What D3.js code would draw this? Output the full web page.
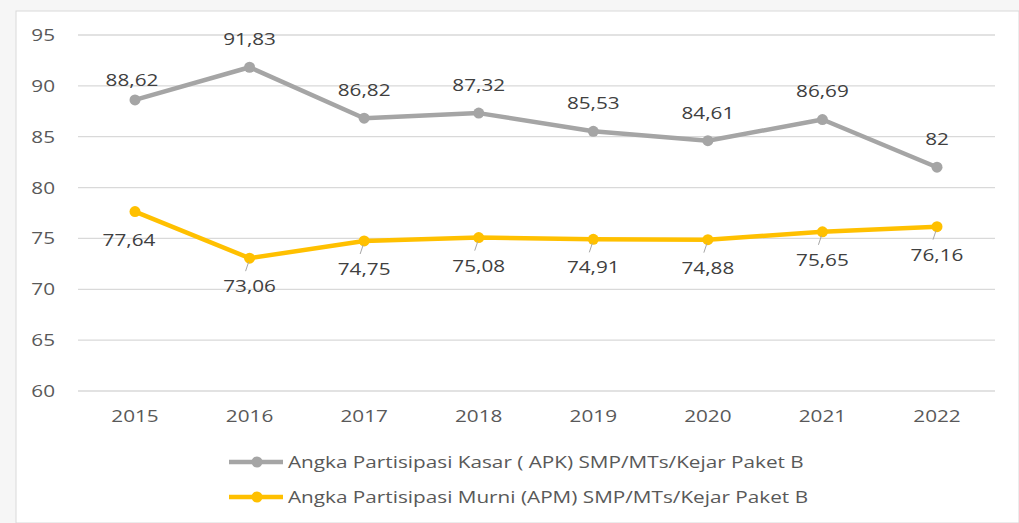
<!DOCTYPE html>
<html><head><meta charset="utf-8">
<script src="https://cdn.jsdelivr.net/npm/d3@7"></script>
<style>
html,body{margin:0;padding:0;background:#f6f6f6;}
svg{display:block;font-family:"Open Sans",sans-serif;}
</style></head>
<body><svg id="c" width="1019" height="523"></svg>
<script>
const years = ["2015","2016","2017","2018","2019","2020","2021","2022"];
const apk = [88.62, 91.83, 86.82, 87.32, 85.53, 84.61, 86.69, 82];
const apm = [77.64, 73.06, 74.75, 75.08, 74.91, 74.88, 75.65, 76.16];
const yTicks = [60, 65, 70, 75, 80, 85, 90, 95];
const seriesNames = ["Angka Partisipasi Kasar ( APK) SMP/MTs/Kejar Paket B",
                     "Angka Partisipasi Murni (APM) SMP/MTs/Kejar Paket B"];
const colors = ["#a5a5a5", "#ffc000"];
const SX = 1.22;

const svg = d3.select("#c");
svg.append("rect").attr("x",16).attr("y",11).attr("width",1019-16).attr("height",523-11)
  .attr("fill","#fff").attr("stroke","#d9d9d9").attr("stroke-width",1);

const x = d3.scalePoint().domain(years).range([135, 937]);
const y = d3.scaleLinear().domain([60, 95]).range([391, 35]);

function stretch(sel, fx, fy) {
  sel.attr("x", 0).attr("y", 0)
     .attr("transform", (d,i) => `translate(${fx(d,i)},${fy(d,i)}) scale(${SX},1)`);
}

// gridlines
svg.append("g").selectAll("line").data(yTicks).join("line")
  .attr("x1",78).attr("x2",995).attr("y1",d=>y(d)).attr("y2",d=>y(d))
  .attr("stroke","#d9d9d9").attr("stroke-width",1.3);

// y axis
const yAx = svg.append("g")
  .call(d3.axisLeft(y).tickValues(yTicks).tickSize(0).tickPadding(0).tickFormat(d3.format("d")));
yAx.select(".domain").remove();
yAx.selectAll(".tick").attr("transform", null);
stretch(yAx.selectAll("text").attr("font-size",17).attr("fill","#595959").attr("font-family","Open Sans")
  .attr("dy","0.35em").attr("text-anchor","end"), () => 55, d => y(d));

// x axis
const xAx = svg.append("g")
  .call(d3.axisBottom(x).tickSize(0).tickPadding(0));
xAx.select(".domain").remove();
xAx.selectAll(".tick").attr("transform", null);
stretch(xAx.selectAll("text").attr("font-size",17).attr("fill","#595959").attr("font-family","Open Sans")
  .attr("dy","0.35em").attr("text-anchor","middle"), d => x(d), () => 416);

const fmt = v => String(v).replace(".", ",");
const line = d3.line().x((d,i)=>x(years[i])).y(d=>y(d));

[apk, apm].forEach((vals, s) => {
  const g = svg.append("g");
  g.append("path").datum(vals).attr("d", line).attr("fill","none")
    .attr("stroke", colors[s]).attr("stroke-width",4.5).attr("stroke-linejoin","round");
  g.selectAll("circle").data(vals).join("circle")
    .attr("cx",(d,i)=>x(years[i])).attr("cy",d=>y(d)).attr("r",5.5).attr("fill",colors[s]);
  if (s === 1) {
    g.selectAll("line.lead").data(vals.slice(1)).join("line").attr("class","lead")
      .attr("x1",(d,i)=>x(years[i+1])-1).attr("y1",d=>y(d)+4)
      .attr("x2",(d,i)=>x(years[i+1])-4).attr("y2",d=>y(d)+13)
      .attr("stroke","#a6a6a6").attr("stroke-width",1);
  }
  stretch(g.selectAll("text").data(vals).join("text")
    .attr("dy","0.35em").attr("text-anchor","middle")
    .attr("font-size",17).attr("fill","#404040").text(d=>fmt(d)),
    (d,i)=>x(years[i]) + (s===1 && i===0 ? -6 : (i===0 ? -3 : 0)),
    (d,i)=> s===0 ? y(d) - (i===0 ? 20 : 28) : y(d) + 28);
});

// legend
const leg = svg.append("g");
seriesNames.forEach((n, s) => {
  const ly = 462 + s*35;
  leg.append("line").attr("x1",229).attr("x2",283).attr("y1",ly).attr("y2",ly)
    .attr("stroke",colors[s]).attr("stroke-width",4.5);
  leg.append("circle").attr("cx",257).attr("cy",ly).attr("r",5.5).attr("fill",colors[s]);
  leg.append("text").attr("x",0).attr("y",0).attr("dy","0.35em")
    .attr("transform",`translate(288,${ly}) scale(${SX},1)`)
    .attr("font-size",17).attr("fill","#595959").text(n);
});
</script></body></html>
